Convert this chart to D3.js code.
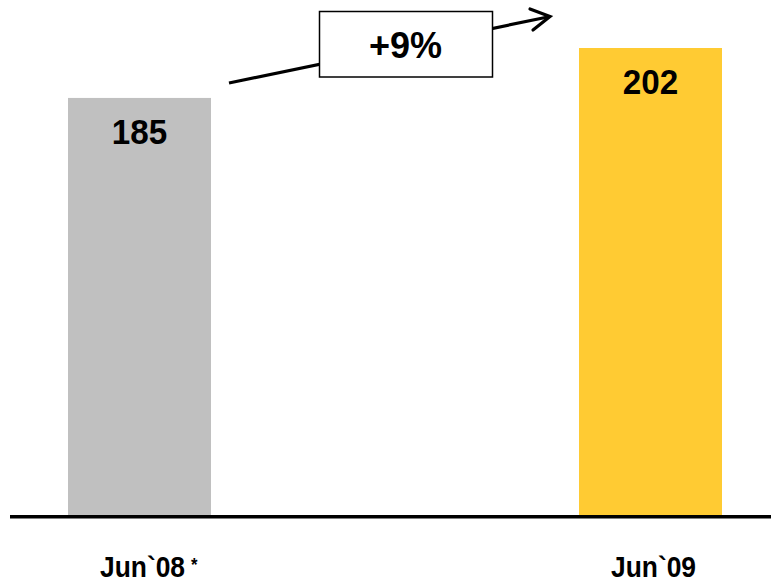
<!DOCTYPE html>
<html>
<head>
<meta charset="utf-8">
<script src="https://cdn.jsdelivr.net/npm/d3@7/dist/d3.min.js"></script>
<style>
  html, body { margin: 0; padding: 0; background: #ffffff; }
  svg { display: block; }
  text { font-family: "Liberation Sans", Arial, sans-serif; font-weight: bold; fill: #000; }
</style>
</head>
<body>
<svg id="chart" width="771" height="583"></svg>
<script>
// ---- data ----
const categories = ["Jun`08", "Jun`09"];
const values = [185, 202];
const footnoteMarks = ["*", ""];
const barColors = ["#C0C0C0", "#FFCB33"];
const growthLabel = "+9%";

// ---- layout ----
const W = 771, H = 583;
const baseY = 515;
const svg = d3.select("#chart");

const x = d3.scalePoint().domain(categories).range([139.5, 650.5]);
const barW = 143;
const y = d3.scaleLinear().domain([43, 202]).range([baseY, 48]);

// bars
svg.selectAll("rect.bar")
  .data(categories)
  .enter().append("rect")
  .attr("class", "bar")
  .attr("x", d => x(d) - barW / 2)
  .attr("y", (d, i) => y(values[i]))
  .attr("width", barW)
  .attr("height", (d, i) => baseY - y(values[i]))
  .attr("fill", (d, i) => barColors[i]);

// value labels
svg.selectAll("text.val")
  .data(categories)
  .enter().append("text")
  .attr("class", "val")
  .attr("transform", (d, i) => `translate(${x(d)},${y(values[i]) + 46}) scale(0.95,1)`)
  .attr("text-anchor", "middle")
  .style("font-size", "35px")
  .text((d, i) => values[i]);

// baseline
svg.append("line")
  .attr("x1", 10).attr("x2", W)
  .attr("y1", 516.7).attr("y2", 516.7)
  .attr("stroke", "#000").attr("stroke-width", 3.5);

// category labels (condensed bold)
const sx = 0.88;
categories.forEach((c, i) => {
  const cx = x(c) + 3;
  const t = svg.append("text")
    .attr("transform", `translate(${cx},577) scale(${sx},1)`)
    .attr("text-anchor", "middle")
    .style("font-size", "30px")
    .text(c);
  if (footnoteMarks[i]) {
    const w = t.node().getComputedTextLength() * sx;
    svg.append("text")
      .attr("transform", `translate(${cx + w / 2 + 6},571) scale(${sx},1)`)
      .style("font-size", "19px")
      .text(footnoteMarks[i]);
  }
});

// growth arrow
const ax1 = 229, ay1 = 83, ax2 = 550, ay2 = 16.5;
svg.append("line")
  .attr("x1", ax1).attr("y1", ay1).attr("x2", ax2 - 1).attr("y2", ay2 + 0.2)
  .attr("stroke", "#000").attr("stroke-width", 3.2);
svg.append("path")
  .attr("d", `M530,9 L${ax2},${ay2} L533,30`)
  .attr("fill", "none").attr("stroke", "#000").attr("stroke-width", 3.2)
  .attr("stroke-linejoin", "miter").attr("stroke-linecap", "round");

// growth box
svg.append("rect")
  .attr("x", 319.5).attr("y", 11.5)
  .attr("width", 173).attr("height", 65.5)
  .attr("fill", "#fff").attr("stroke", "#000").attr("stroke-width", 1.5);
svg.append("text")
  .attr("x", 405.5).attr("y", 58)
  .attr("text-anchor", "middle")
  .style("font-size", "36px")
  .text(growthLabel);
</script>
</body>
</html>
